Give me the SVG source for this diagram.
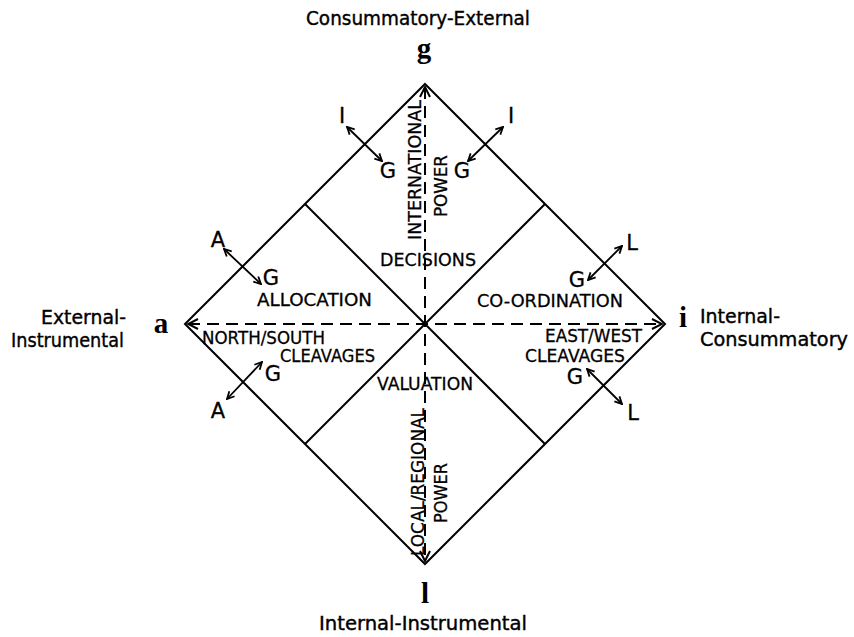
<svg xmlns="http://www.w3.org/2000/svg" width="854" height="637" viewBox="0 0 854 637">
<style>
.ln{stroke:#000;stroke-width:2;fill:none}
.dash{stroke:#000;stroke-width:2;fill:none;stroke-dasharray:12 7}
.sm{stroke:#000;stroke-width:1.8;fill:none}
.lab{font-family:"DejaVu Sans","Liberation Sans",Arial,sans-serif;font-size:17.5px;fill:#000;stroke:#000;stroke-width:0.3}
.ttl{font-family:"DejaVu Sans","Liberation Sans",Arial,sans-serif;font-size:19.5px;fill:#000;stroke:#000;stroke-width:0.4}
.let{font-family:"DejaVu Sans","Liberation Sans",Arial,sans-serif;font-size:21px;fill:#000;stroke:#000;stroke-width:0.3}
.ser{font-family:"Liberation Serif","Times New Roman",serif;font-size:29px;font-weight:bold;fill:#000}
</style>
<defs>
<marker id="ah" viewBox="0 0 12 12" refX="11" refY="6" markerWidth="12" markerHeight="12" markerUnits="userSpaceOnUse" orient="auto-start-reverse">
<path d="M1,1 L11,6 L1,11" fill="none" stroke="#000" stroke-width="2"/>
</marker>
<marker id="ahs" viewBox="0 0 10 10" refX="9" refY="5" markerWidth="9" markerHeight="9" markerUnits="userSpaceOnUse" orient="auto-start-reverse">
<path d="M1,1 L9,5 L1,9" fill="none" stroke="#000" stroke-width="2"/>
</marker>
</defs>
<rect width="854" height="637" fill="#fff"/>

<g id="frame">
<polygon class="ln" points="425,84 665,324 425,564 185,324"/>
<line class="ln" x1="305" y1="204" x2="545" y2="444"/>
<line class="ln" x1="545" y1="204" x2="305" y2="444"/>
</g>

<g id="connectors">
<line class="dash" x1="188" y1="324" x2="662" y2="324" marker-start="url(#ah)" marker-end="url(#ah)"/>
<line class="dash" x1="425" y1="87" x2="425" y2="561" marker-start="url(#ah)" marker-end="url(#ah)"/>
<line class="sm" x1="347" y1="127" x2="382" y2="161" marker-start="url(#ahs)" marker-end="url(#ahs)"/>
<line class="sm" x1="468" y1="161" x2="503" y2="127" marker-start="url(#ahs)" marker-end="url(#ahs)"/>
<line class="sm" x1="224" y1="249" x2="261" y2="284" marker-start="url(#ahs)" marker-end="url(#ahs)"/>
<line class="sm" x1="262" y1="362" x2="227" y2="399" marker-start="url(#ahs)" marker-end="url(#ahs)"/>
<line class="sm" x1="622" y1="246" x2="588" y2="280" marker-start="url(#ahs)" marker-end="url(#ahs)"/>
<line class="sm" x1="587" y1="369" x2="622" y2="404" marker-start="url(#ahs)" marker-end="url(#ahs)"/>
</g>

<g id="node-g">
<text class="ttl" x="418" y="25" text-anchor="middle" textLength="224" lengthAdjust="spacingAndGlyphs">Consummatory-External</text>
<text class="ser" x="424" y="58" text-anchor="middle">g</text>
</g>
<g id="node-a">
<text class="ttl" x="126" y="324" text-anchor="end" textLength="85" lengthAdjust="spacingAndGlyphs">External-</text>
<text class="ttl" x="124" y="347" text-anchor="end" textLength="113" lengthAdjust="spacingAndGlyphs">Instrumental</text>
<text class="ser" x="161" y="333" text-anchor="middle">a</text>
</g>
<g id="node-i">
<text class="ser" x="683" y="327" text-anchor="middle">i</text>
<text class="ttl" x="700" y="323" textLength="80" lengthAdjust="spacingAndGlyphs">Internal-</text>
<text class="ttl" x="700" y="346" textLength="148" lengthAdjust="spacingAndGlyphs">Consummatory</text>
</g>
<g id="node-l">
<text class="ser" x="425" y="603" text-anchor="middle">l</text>
<text class="ttl" x="423" y="630" text-anchor="middle" textLength="208" lengthAdjust="spacingAndGlyphs">Internal-Instrumental</text>
</g>

<g id="decisions">
<text class="lab" x="428" y="266" text-anchor="middle" textLength="96" lengthAdjust="spacingAndGlyphs">DECISIONS</text>
<text class="lab" transform="translate(421,170) rotate(-90)" text-anchor="middle" textLength="140" lengthAdjust="spacingAndGlyphs">INTERNATIONAL</text>
<text class="lab" transform="translate(447,186) rotate(-90)" text-anchor="middle" textLength="62" lengthAdjust="spacingAndGlyphs">POWER</text>
<text class="let" x="342" y="123" text-anchor="middle">I</text>
<text class="let" x="388" y="178" text-anchor="middle">G</text>
<text class="let" x="462" y="178" text-anchor="middle">G</text>
<text class="let" x="511" y="123" text-anchor="middle">I</text>
</g>

<g id="allocation">
<text class="lab" x="257" y="306" textLength="115" lengthAdjust="spacingAndGlyphs">ALLOCATION</text>
<text class="lab" x="202" y="344" textLength="123" lengthAdjust="spacingAndGlyphs">NORTH/SOUTH</text>
<text class="lab" x="280" y="362" textLength="95" lengthAdjust="spacingAndGlyphs">CLEAVAGES</text>
<text class="let" x="218" y="247" text-anchor="middle">A</text>
<text class="let" x="271" y="285" text-anchor="middle">G</text>
<text class="let" x="273" y="381" text-anchor="middle">G</text>
<text class="let" x="218" y="418" text-anchor="middle">A</text>
</g>

<g id="coordination">
<text class="lab" x="477" y="307" textLength="146" lengthAdjust="spacingAndGlyphs">CO-ORDINATION</text>
<text class="lab" x="545" y="342" textLength="97" lengthAdjust="spacingAndGlyphs">EAST/WEST</text>
<text class="lab" x="525" y="362" textLength="100" lengthAdjust="spacingAndGlyphs">CLEAVAGES</text>
<text class="let" x="632" y="250" text-anchor="middle">L</text>
<text class="let" x="577" y="287" text-anchor="middle">G</text>
<text class="let" x="575" y="384" text-anchor="middle">G</text>
<text class="let" x="633" y="420" text-anchor="middle">L</text>
</g>

<g id="valuation">
<text class="lab" x="425" y="390" text-anchor="middle" textLength="96" lengthAdjust="spacingAndGlyphs">VALUATION</text>
<text class="lab" transform="translate(424,482) rotate(-90)" text-anchor="middle" textLength="148" lengthAdjust="spacingAndGlyphs">LOCAL/REGIONAL</text>
<text class="lab" transform="translate(447,493) rotate(-90)" text-anchor="middle" textLength="60" lengthAdjust="spacingAndGlyphs">POWER</text>
</g>
</svg>
